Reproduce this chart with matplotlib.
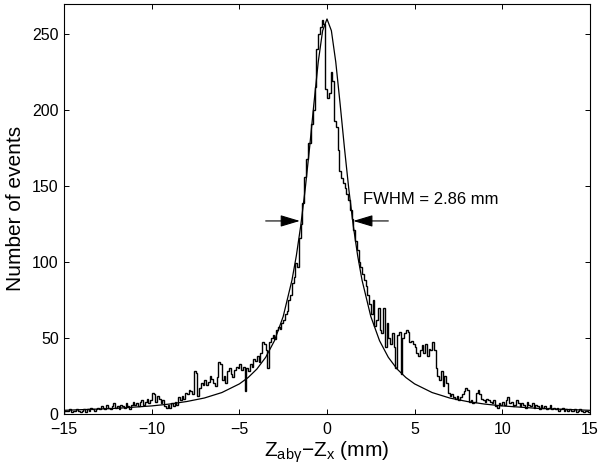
import numpy as np
import matplotlib
matplotlib.use('Agg')
import matplotlib.pyplot as plt

plt.rcParams['font.family'] = ['Liberation Sans', 'DejaVu Sans']
plt.rcParams['mathtext.fontset'] = 'custom'
plt.rcParams['mathtext.rm'] = 'Liberation Sans'
plt.rcParams['mathtext.it'] = 'Liberation Sans'

# histogram counts, 0.1 mm bins from -15 to 15
counts = [
    2, 2, 2, 3, 1, 2, 2, 3, 2, 1,
    2, 3, 1, 3, 2, 4, 3, 2, 3, 4,
    3, 5, 4, 3, 6, 4, 3, 5, 7, 4,
    5, 3, 6, 5, 4, 7, 5, 3, 6, 8,
    6, 7, 5, 8, 9, 6, 8, 10, 7, 9,
    14, 13, 8, 12, 10, 7, 9, 5, 4, 6,
    4, 7, 5, 8, 6, 11, 9, 12, 10, 14,
    13, 16, 15, 13, 28, 27, 12, 17, 20, 19,
    22, 19, 21, 25, 23, 20, 18, 24, 34, 33,
    22, 25, 20, 28, 30, 26, 24, 29, 31, 30,
    33, 29, 31, 15, 30, 28, 33, 31, 36, 35,
    38, 34, 40, 47, 46, 42, 30, 47, 50, 52,
    49, 55, 57, 56, 60, 62, 66, 68, 75, 78,
    86, 90, 99, 97, 116, 125, 139, 156, 168, 178,
    178, 191, 200, 215, 240, 250, 255, 259, 257, 214,
    208, 211, 225, 219, 193, 189, 174, 160, 155, 152,
    149, 145, 141, 134, 128, 121, 114, 108, 100, 97,
    92, 88, 84, 78, 72, 66, 75, 58, 62, 70,
    55, 53, 70, 44, 60, 50, 46, 53, 44, 30,
    52, 54, 26, 50, 53, 55, 54, 47, 48, 46,
    44, 40, 38, 42, 45, 40, 46, 38, 43, 42,
    47, 42, 30, 25, 22, 28, 18, 25, 20, 14,
    12, 13, 11, 10, 12, 9, 11, 13, 15, 17,
    16, 8, 9, 7, 8, 14, 16, 13, 10, 9,
    8, 10, 9, 8, 7, 9, 5, 4, 7, 6,
    8, 6, 9, 11, 7, 8, 5, 6, 9, 7,
    5, 7, 6, 4, 8, 6, 5, 7, 4, 6,
    5, 3, 6, 4, 5, 3, 4, 6, 3, 4,
    3, 4, 2, 3, 4, 2, 3, 2, 3, 2,
    2, 3, 1, 2, 3, 2, 1, 2, 2, 1,
]
edges = np.linspace(-15, 15, len(counts) + 1)

# fitted curve, points
fit_x = [-15, -12, -10, -9, -8, -7, -6, -5, -4.5, -4, -3.5, -3, -2.5, -2, -1.75, -1.5,
         -1.25, -1, -0.75, -0.5, -0.25, 0, 0.25, 0.5, 0.75, 1, 1.25, 1.5, 1.75, 2,
         2.5, 3, 3.5, 4, 4.5, 5, 6, 7, 8, 9, 10, 12, 15]
fit_y = [2.3, 3.6, 5.2, 6.4, 8.1, 10.4, 14.0, 19.7, 23.9, 29.5, 37.2, 48.1, 64.1, 88.0,
         104.1, 123.8, 147.4, 174.6, 203.9, 231.7, 252.3, 260, 252.3, 231.7, 203.9,
         174.6, 147.4, 123.8, 104.1, 88.0, 64.1, 48.1, 37.2, 29.5, 23.9, 19.7, 14.0,
         10.4, 8.1, 6.4, 5.2, 3.6, 2.3]

fwhm_text = 'FWHM = 2.86 mm'

fig = plt.figure(figsize=(6, 4.74), dpi=100)
ax = fig.add_axes([0.107, 0.127, 0.876, 0.865])

ax.stairs(counts, edges, color='k', lw=1.0, baseline=0)
ax.plot(fit_x, fit_y, color='k', lw=0.9)

# FWHM arrows
arrow = dict(arrowstyle='-|>,head_length=0.6,head_width=0.18', color='k', lw=0.8,
             mutation_scale=20, shrinkA=0, shrinkB=0)
ax.annotate('', xy=(-1.55, 127), xytext=(-3.5, 127), arrowprops=arrow)
ax.annotate('', xy=(1.5, 127), xytext=(3.5, 127), arrowprops=arrow)
ax.text(2.05, 141, fwhm_text, fontsize=12, va='center', ha='left')

ax.set_xlim(-15, 15)
ax.set_ylim(0, 270)
ax.set_xticks([-15, -10, -5, 0, 5, 10, 15])
ax.set_yticks([0, 50, 100, 150, 200, 250])
ax.tick_params(direction='in', top=True, right=True, length=3.5, width=0.7,
               labelsize=11.5)
ax.tick_params(axis='x', pad=6)
ax.tick_params(axis='y', pad=4)
for s in ax.spines.values():
    s.set_linewidth(0.8)

ax.set_xlabel(r'Z$_{\mathrm{ab}\gamma}$$-$Z$_\mathrm{x}$ (mm)', fontsize=15, labelpad=2)
ax.set_ylabel('Number of events', fontsize=15, labelpad=5)

fig.savefig('out.png', dpi=100)
